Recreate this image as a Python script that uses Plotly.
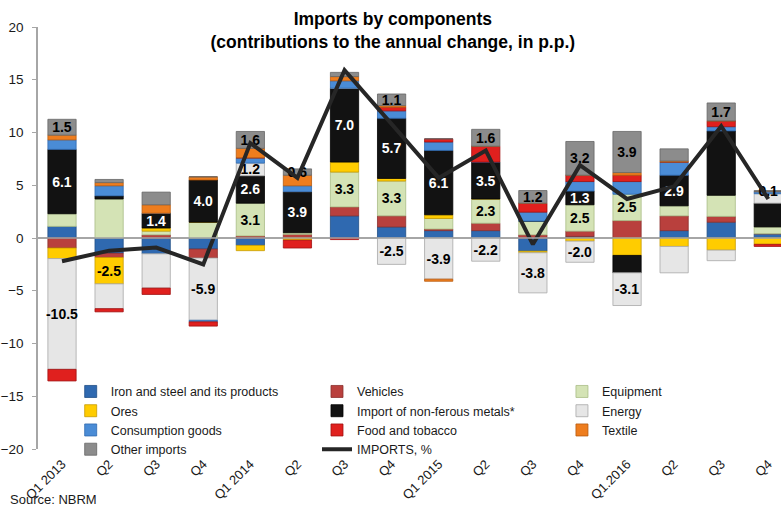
import plotly.graph_objects as go

# Quarter positions and their axis labels
quarters = ["Q1 2013", "Q2", "Q3", "Q4", "Q1 2014", "Q2", "Q3", "Q4",
            "Q1 2015", "Q2", "Q3", "Q4", "Q1.2016", "Q2", "Q3", "Q4"]
xpos = list(range(len(quarters)))

# Contributions to the annual change of imports, in percentage points
iron =        [1.1, -1.45, -1.5, -1.05, -0.7, 0.0, 2.1, 1.05, 0.7, 0.7, -1.25, 0.15, 0.0, 0.7, 1.5, 0.4]
vehicles =    [-0.95, -0.4, 0.3, -0.85, 0.2, 0.35, 0.85, 1.05, 0.15, 0.7, 0.3, 0.5, 1.65, 1.4, 0.55, 0.0]
equipment =   [1.2, 3.7, 0.35, 1.5, 3.1, 0.15, 3.3, 3.3, 1.0, 2.3, 1.3, 2.5, 2.5, 0.95, 2.0, 0.65]
ores =        [-1.0, -2.5, 0.3, 0.0, -0.5, -0.2, 0.95, 0.25, 0.35, 0.0, -0.15, -0.3, -1.65, -0.8, -1.15, -0.6]
nonferrous =  [6.1, 0.3, 1.4, 4.0, 2.6, 3.9, 7.0, 5.7, 6.1, 3.5, 0.0, 1.3, -1.65, 2.9, 6.1, 2.25]
energy =      [-10.5, -2.35, -3.25, -5.9, 1.2, 0.0, 0.0, -2.5, -3.9, -2.2, -3.8, -2.0, -3.1, -2.5, -1.0, 0.9]
consumption = [0.9, 0.95, 0.0, -0.15, 0.5, 0.55, 0.7, 0.7, 0.8, 0.0, 0.85, 0.9, 1.2, 1.25, 0.4, 0.2]
food =        [-1.1, -0.3, -0.6, -0.4, 0.0, -0.75, -0.15, 0.35, 0.3, 1.5, 0.85, 0.6, 0.6, 0.0, 0.55, -0.2]
textile =     [0.45, 0.3, 0.8, 0.3, 0.9, 1.0, 0.4, 0.15, -0.2, 0.0, 0.0, 0.0, 0.25, 0.1, 0.0, 0.0]
other =       [1.5, 0.3, 1.2, 0.0, 1.6, 0.6, 0.4, 1.1, 0.0, 1.6, 1.2, 3.2, 3.9, 1.15, 1.7, 0.1]
imports_total = [-2.2, -1.2, -0.9, -2.5, 9.0, 5.7, 15.9, 10.8, 5.7, 8.3, -0.6, 6.9, 3.7, 4.9, 10.6, 3.7]

# Quarters whose segment carries a value label
labelled = {
    "Ores": [1],
    "Equipment": [4, 6, 7, 9, 11, 12],
    "Import of non-ferous metals*": [0, 2, 3, 4, 5, 6, 7, 8, 9, 11, 13],
    "Energy": [0, 3, 4, 7, 8, 9, 10, 11, 12],
    "Other imports": [0, 4, 5, 7, 9, 10, 11, 12, 14, 15],
}

# name, values, fill, edge, label colour, legend column
series = [
    ("Iron and steel and its products", iron, "#2F69B0", "#1F4E85", "black", "legend"),
    ("Vehicles", vehicles, "#B9403D", "#8A2E2C", "black", "legend2"),
    ("Equipment", equipment, "#D4E3B5", "#A9BC86", "black", "legend3"),
    ("Ores", ores, "#FFCC00", "#C79A00", "black", "legend"),
    ("Import of non-ferous metals*", nonferrous, "#121212", "#000000", "white", "legend2"),
    ("Energy", energy, "#E6E6E6", "#A8A8A8", "black", "legend3"),
    ("Consumption goods", consumption, "#4A8CD6", "#2F69B0", "black", "legend"),
    ("Food and tobacco", food, "#E0201E", "#A01010", "black", "legend2"),
    ("Textile", textile, "#EE7D1E", "#B85A0E", "black", "legend3"),
    ("Other imports", other, "#8C8C8C", "#666666", "black", "legend"),
]

fig = go.Figure()
for name, vals, fill, edge, tcol, leg in series:
    idx = labelled.get(name, [])
    text = [f"{v:.1f}" if i in idx else "" for i, v in enumerate(vals)]
    fig.add_trace(go.Bar(
        x=xpos, y=vals, name=name, legend=leg,
        marker=dict(color=fill, line=dict(color=edge, width=0.8)),
        width=0.6,
        text=text, textposition="inside", insidetextanchor="middle",
        textangle=0, constraintext="none",
        textfont=dict(family="Liberation Sans", size=14, color=tcol, weight="bold"),
    ))

fig.add_trace(go.Scatter(
    x=xpos, y=imports_total, name="IMPORTS, %", legend="legend2",
    mode="lines", line=dict(color="#262626", width=4),
))

legend_common = dict(
    orientation="v", yanchor="top", xanchor="left",
    bgcolor="rgba(0,0,0,0)", tracegroupgap=0,
    font=dict(family="Liberation Sans", size=12.5, color="#1a1a1a"),
)

fig.update_layout(
    width=781, height=506,
    margin=dict(l=38, r=0, t=27, b=57),
    paper_bgcolor="white", plot_bgcolor="white",
    barmode="relative", bargap=0.4,
    showlegend=True,
    title=dict(
        text="Imports by components<br>(contributions to the annual change, in p.p.)",
        x=0.503, xanchor="center", y=0.95, yanchor="top",
        font=dict(family="Liberation Sans", size=17.5, color="black", weight="bold"),
    ),
    legend=dict(x=0.044, y=0.171, **legend_common),
    legend2=dict(x=0.3755, y=0.171, **legend_common),
    legend3=dict(x=0.7052, y=0.171, **legend_common),
    xaxis=dict(
        range=[-0.51, 15.27], tickmode="array", tickvals=xpos, ticktext=quarters,
        tickangle=-45, showgrid=False, showline=False, zeroline=False, ticks="",
        ticklabelstandoff=4,
        tickfont=dict(family="Liberation Sans", size=13, color="#1a1a1a"),
    ),
    yaxis=dict(
        range=[-20, 20], dtick=5, showgrid=False,
        showline=True, linecolor="#A6A6A6", linewidth=1.5,
        ticks="outside", ticklen=4, tickcolor="#A6A6A6",
        ticklabelstandoff=6,
        zeroline=True, zerolinecolor="#A6A6A6", zerolinewidth=1.5,
        tickfont=dict(family="Liberation Sans", size=13.5, color="#1a1a1a"),
    ),
    # zero line drawn across the bars
    shapes=[dict(
        type="line", xref="paper", yref="y", x0=0, x1=1, y0=0, y1=0,
        line=dict(color="#A6A6A6", width=1.5), layer="above",
    )],
    annotations=[dict(
        text="Source: NBRM", xref="paper", yref="paper",
        x=-0.04, y=-0.098, xanchor="left", yanchor="top", showarrow=False,
        font=dict(family="Liberation Sans", size=13, color="#1a1a1a"),
    )],
    uniformtext=dict(mode="show", minsize=14),
)

fig.write_html("out.html")
